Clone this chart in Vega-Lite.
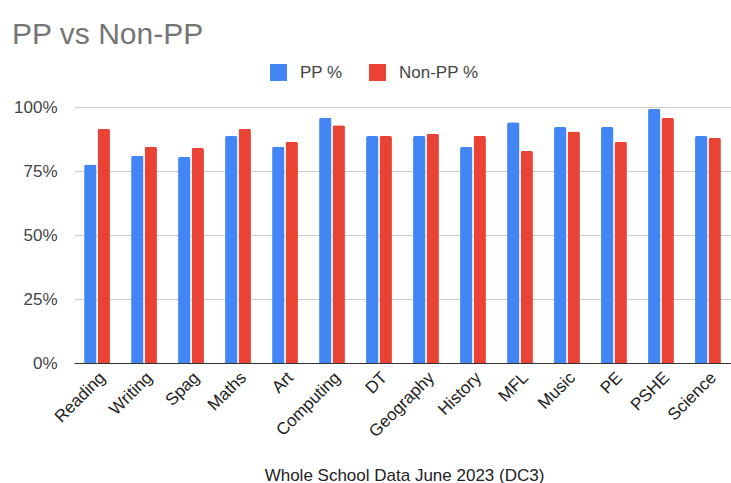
{
  "$schema": "https://vega.github.io/schema/vega-lite/v6.json",
  "width": 663,
  "height": 256,
  "autosize": {"type": "none"},
  "padding": {"left": 68, "top": 107, "right": 0, "bottom": 120},
  "background": "white",
  "config": {"font": "Liberation Sans", "view": {"stroke": null}},
  "title": {
    "text": "PP vs Non-PP",
    "anchor": "start",
    "frame": "group",
    "dx": -56,
    "offset": 14,
    "fontSize": 30,
    "fontWeight": "normal",
    "color": "#757575",
    "font": "Liberation Sans"
  },
  "data": {
    "values": [
      {"subject": "Reading", "group": "PP %", "value": 0.775},
      {"subject": "Reading", "group": "Non-PP %", "value": 0.915},
      {"subject": "Writing", "group": "PP %", "value": 0.81},
      {"subject": "Writing", "group": "Non-PP %", "value": 0.845},
      {"subject": "Spag", "group": "PP %", "value": 0.805},
      {"subject": "Spag", "group": "Non-PP %", "value": 0.84},
      {"subject": "Maths", "group": "PP %", "value": 0.887},
      {"subject": "Maths", "group": "Non-PP %", "value": 0.915},
      {"subject": "Art", "group": "PP %", "value": 0.845},
      {"subject": "Art", "group": "Non-PP %", "value": 0.864},
      {"subject": "Computing", "group": "PP %", "value": 0.958},
      {"subject": "Computing", "group": "Non-PP %", "value": 0.929},
      {"subject": "DT", "group": "PP %", "value": 0.887},
      {"subject": "DT", "group": "Non-PP %", "value": 0.887},
      {"subject": "Geography", "group": "PP %", "value": 0.887},
      {"subject": "Geography", "group": "Non-PP %", "value": 0.895},
      {"subject": "History", "group": "PP %", "value": 0.844},
      {"subject": "History", "group": "Non-PP %", "value": 0.887},
      {"subject": "MFL", "group": "PP %", "value": 0.94},
      {"subject": "MFL", "group": "Non-PP %", "value": 0.828},
      {"subject": "Music", "group": "PP %", "value": 0.922},
      {"subject": "Music", "group": "Non-PP %", "value": 0.904},
      {"subject": "PE", "group": "PP %", "value": 0.922},
      {"subject": "PE", "group": "Non-PP %", "value": 0.864},
      {"subject": "PSHE", "group": "PP %", "value": 0.993},
      {"subject": "PSHE", "group": "Non-PP %", "value": 0.958},
      {"subject": "Science", "group": "PP %", "value": 0.887},
      {"subject": "Science", "group": "Non-PP %", "value": 0.88}
    ]
  },
  "mark": {"type": "bar", "cornerRadiusTopLeft": 2, "cornerRadiusTopRight": 2},
  "encoding": {
    "x": {
      "field": "subject",
      "type": "nominal",
      "sort": null,
      "scale": {"range": [6, 663], "paddingInner": 0.45, "paddingOuter": 0.215},
      "axis": {
        "title": "Whole School Data June 2023 (DC3)",
        "titleFontSize": 17,
        "titleFontWeight": "normal",
        "titleColor": "#222222",
        "titleBaseline": "alphabetic",
        "titleY": 117,
        "titleX": 336,
        "labelAngle": -45,
        "labelFontSize": 17,
        "labelColor": "#222222",
        "labelPadding": 6,
        "ticks": false,
        "domainColor": "#333333",
        "domainWidth": 1,
        "grid": false
      }
    },
    "xOffset": {
      "field": "group",
      "type": "nominal",
      "sort": ["PP %", "Non-PP %"],
      "scale": {"paddingInner": 0.08}
    },
    "y": {
      "field": "value",
      "type": "quantitative",
      "scale": {"domain": [0, 1]},
      "axis": {
        "title": null,
        "values": [0, 0.25, 0.5, 0.75, 1],
        "format": ".0%",
        "labelFontSize": 17,
        "labelColor": "#444444",
        "labelPadding": 11,
        "domain": false,
        "ticks": false,
        "gridColor": "#cccccc",
        "gridWidth": 1
      }
    },
    "color": {
      "field": "group",
      "type": "nominal",
      "scale": {"domain": ["PP %", "Non-PP %"], "range": ["#4285F4", "#EA4335"]},
      "legend": {
        "title": null,
        "orient": "none",
        "direction": "horizontal",
        "legendX": 202,
        "legendY": -43,
        "padding": 0,
        "symbolType": "square",
        "symbolSize": 289,
        "symbolStrokeWidth": 0,
        "symbolOpacity": 1,
        "labelFontSize": 17,
        "labelColor": "#444444",
        "labelOffset": 13,
        "columnPadding": 26
      }
    }
  }
}
